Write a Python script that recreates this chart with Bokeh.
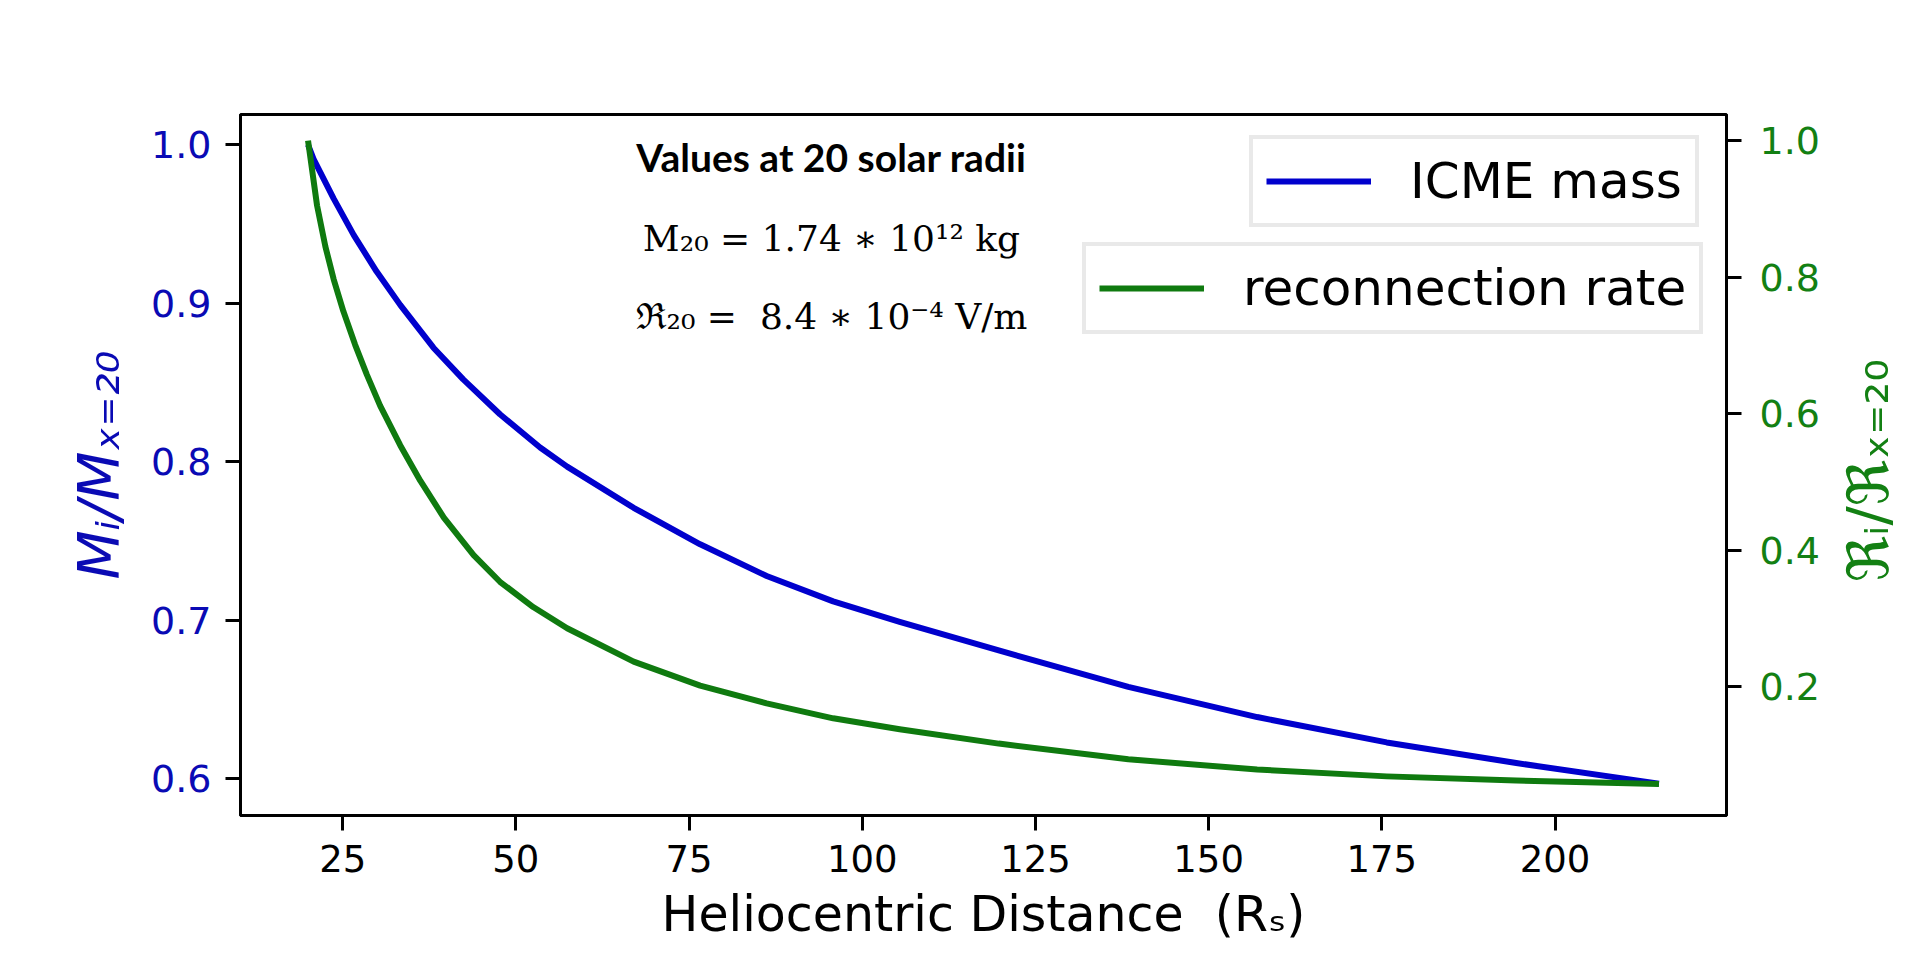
import math
from bokeh.plotting import figure
from bokeh.layouts import row
from bokeh.models import (Range1d, LinearAxis, FixedTicker, Legend, LegendItem,
                          Label, PrintfTickFormatter)
from bokeh.embed import file_html
from bokeh.resources import INLINE

# ---- data ----
mass_distance = [20, 20.8, 23.7, 26.6, 29.9, 33.3, 38.1, 42.4, 47.7, 53.5, 57.4, 67,
                 76.6, 86.2, 95.8, 105.4, 119.7, 138.4, 157, 175.7, 194.4, 215]
icme_mass = [1.0, 0.991, 0.966, 0.943, 0.920, 0.899, 0.872, 0.852, 0.830, 0.809,
             0.797, 0.771, 0.748, 0.728, 0.712, 0.699, 0.681, 0.658, 0.639, 0.623,
             0.610, 0.597]
rate_distance = [20, 21.3, 22.5, 23.7, 25.1, 26.8, 28.5, 30.4, 33.3, 36.2, 39.6, 43.9,
                 47.7, 52.5, 57.4, 67, 76.6, 86.2, 95.8, 105.4, 119.7, 138.4, 157,
                 175.7, 194.4, 215]
reconnection_rate = [1.0, 0.905, 0.845, 0.797, 0.750, 0.701, 0.657, 0.612, 0.554,
                     0.502, 0.448, 0.393, 0.354, 0.317, 0.286, 0.237, 0.202, 0.176,
                     0.154, 0.138, 0.117, 0.094, 0.079, 0.069, 0.063, 0.058]
x_ticks = [25, 50, 75, 100, 125, 150, 175, 200]
left_ticks = [0.6, 0.7, 0.8, 0.9, 1.0]
right_ticks = [0.2, 0.4, 0.6, 0.8, 1.0]

BLUE = "#0000cd"
BLUE_TXT = "#0a0ab4"
GREEN = "#0f7a0f"
GREEN_TXT = "#138013"

p = figure(width=1830, height=945,
           x_range=Range1d(10.25, 224.75), y_range=Range1d(0.5769, 1.0191),
           output_backend="svg", toolbar_location=None,
           min_border_left=240, min_border_right=104,
           min_border_top=114, min_border_bottom=129)
p.extra_y_ranges = {"right": Range1d(0.0117, 1.0383)}

p.xgrid.grid_line_color = None
p.ygrid.grid_line_color = None
p.outline_line_color = "black"
p.outline_line_width = 3
p.outline_line_alpha = 1.0
p.background_fill_color = "white"
p.border_fill_color = "white"

def style_axis(ax, color):
    ax.axis_line_color = "black"
    ax.axis_line_width = 3
    ax.major_tick_line_color = "black"
    ax.major_tick_line_width = 3
    ax.major_tick_out = 15
    ax.major_tick_in = 0
    ax.minor_tick_line_color = None
    ax.major_label_text_font = "DejaVu Sans"
    ax.major_label_text_font_size = "38px"
    ax.major_label_text_color = color
    ax.axis_label_text_font = "DejaVu Sans"
    ax.axis_label_text_color = color

xa = p.xaxis[0]
style_axis(xa, "black")
xa.ticker = FixedTicker(ticks=x_ticks)
xa.formatter = PrintfTickFormatter(format="%d")
xa.major_label_text_font_size = "37px"
xa.major_label_standoff = 14
xa.axis_label = "Heliocentric Distance \u00a0(R\u209b)"
xa.axis_label_text_font_size = "49px"
xa.axis_label_text_font_style = "normal"
xa.axis_label_standoff = 11

ya = p.yaxis[0]
style_axis(ya, BLUE_TXT)
ya.ticker = FixedTicker(ticks=left_ticks)
ya.formatter = PrintfTickFormatter(format="%.1f")
ya.major_label_standoff = 14
ya.axis_label = "M\u1d62/M\u2093\u208c\u2082\u2080"
ya.axis_label_text_font_size = "57px"
ya.axis_label_text_font_style = "italic"
ya.axis_label_standoff = 16

ra = LinearAxis(y_range_name="right")
style_axis(ra, GREEN_TXT)
ra.ticker = FixedTicker(ticks=right_ticks)
ra.formatter = PrintfTickFormatter(format="%.1f")
ra.major_label_standoff = 18
p.add_layout(ra, "right")

r_mass = p.line(mass_distance, icme_mass, line_color=BLUE, line_width=6,
                line_join="round")
r_rec = p.line(rate_distance, reconnection_rate, line_color=GREEN, line_width=6,
               line_join="round", y_range_name="right")

def make_legend(item, loc):
    lg = Legend(items=[item], location=loc, orientation="vertical")
    lg.label_text_font = "DejaVu Sans"
    lg.label_text_font_size = "50px"
    lg.label_text_color = "black"
    lg.glyph_width = 105
    lg.glyph_height = 30
    lg.label_standoff = 39
    lg.padding = 13
    lg.spacing = 0
    lg.margin = 0
    lg.border_line_color = "#d4d4d4"
    lg.border_line_width = 4
    lg.background_fill_color = "white"
    lg.background_fill_alpha = 0.85
    return lg

p.add_layout(make_legend(LegendItem(label="ICME mass", renderers=[r_mass]), (1009, 588)))
p.add_layout(make_legend(LegendItem(label="reconnection rate", renderers=[r_rec]), (842, 481)))

# annotation text inside the plot area
p.add_layout(Label(x=591, y=659, x_units="screen", y_units="screen",
                   text="Values at 20 solar radii", text_font="Lato",
                   text_font_style="bold", text_font_size="39px",
                   text_align="center", text_baseline="middle", text_color="black"))
p.add_layout(Label(x=591, y=577, x_units="screen", y_units="screen",
                   text="M\u2082\u2080 = 1.74 \u2217 10\u00b9\u00b2 kg", text_font="DejaVu Serif",
                   text_font_style="normal", text_font_size="36px",
                   text_align="center", text_baseline="middle", text_color="black"))
p.add_layout(Label(x=591, y=499, x_units="screen", y_units="screen",
                   text="\u211c\u2082\u2080 = \u00a08.4 \u2217 10\u207b\u2074 V/m", text_font="DejaVu Serif",
                   text_font_style="normal", text_font_size="36px",
                   text_align="center", text_baseline="middle", text_color="black"))

# narrow strip holding the right-hand axis title (reads bottom-to-top)
p2 = figure(width=74, height=945, x_range=Range1d(0, 1), y_range=Range1d(0, 1),
            x_axis_type=None, y_axis_type=None, title=None,
            output_backend="svg", toolbar_location=None, min_border=0)
p2.outline_line_color = None
p2.background_fill_color = "white"
p2.border_fill_color = "white"
p2.add_layout(Label(x=37, y=345, x_units="screen", y_units="screen",
                    text="\u211c\u1d62/\u211c\u2093\u208c\u2082\u2080", text_font="DejaVu Sans",
                    text_font_size="57px", text_align="center", text_baseline="middle",
                    angle=math.pi / 2, text_color=GREEN_TXT))

layout = row(p, p2, spacing=0)
open("out.html", "w").write(file_html(layout, INLINE))
